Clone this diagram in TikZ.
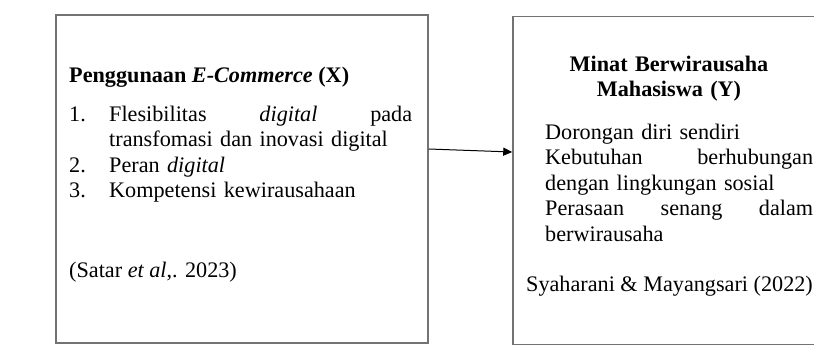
\documentclass[tikz,border=0pt]{standalone}
\usepackage{fontspec}
\setmainfont{Liberation Serif}
\usetikzlibrary{arrows.meta}
\tikzset{
  varbox/.style={draw=black!55, line width=1.5pt, minimum width=#1,
    minimum height=328pt, inner sep=0pt},
  txt/.style={inner sep=0pt, anchor=base west,
    font=\fontsize{22.2}{25.5}\selectfont},
  link/.style={-{Triangle[length=9pt,width=8pt]}, line width=1pt}
}
\begin{document}
\begin{tikzpicture}[x=1pt, y=-1pt]
\useasboundingbox (0,0) rectangle (814,349);
\node[varbox=372pt] (boxx) at (242,179) {};
\node[varbox=320pt] (boxy) at (673,180.5) {};
% variabel X
\node[txt] (titlex) at (69,82)
	{\textbf{Penggunaan \textit{E-Commerce} (X)}};
\node[txt, text width=343pt] (listx) at (69,121)
	{\makebox[40pt][l]{1.}Flesibilitas\hfill\textit{digital}\hfill pada\\
	\hspace*{40pt}transfomasi dan inovasi digital\\
	\makebox[40pt][l]{2.}Peran \textit{digital}\\
	\makebox[40pt][l]{3.}Kompetensi kewirausahaan};
\node[txt] (refx) at (69,277) {(Satar \textit{et al},. 2023)};
% variabel Y
\node[txt, anchor=base, text width=300pt, align=center] (titley)
	at (669,71) {\textbf{Minat Berwirausaha\\Mahasiswa (Y)}};
\node[txt, text width=268pt] (listy) at (545,139)
	{Dorongan diri sendiri\\
	Kebutuhan\hfill berhubungan\\
	dengan lingkungan sosial\\
	Perasaan\hfill senang\hfill dalam\\
	berwirausaha};
\node[txt, anchor=base] (refy) at (669.5,291)
	{Syaharani \& Mayangsari (2022)};
\draw[link] ([yshift=30pt]boxx.east) -- ([yshift=28.5pt]boxy.west);
\end{tikzpicture}
\end{document}
